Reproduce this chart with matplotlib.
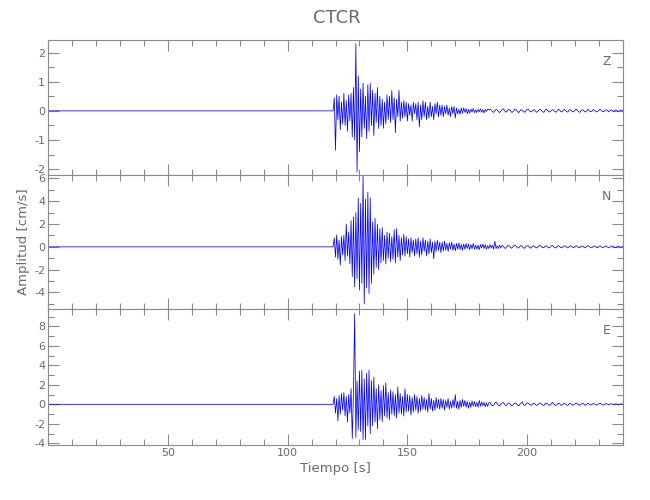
import numpy as np
import matplotlib
matplotlib.use("Agg")
import matplotlib.pyplot as plt
from matplotlib.ticker import MultipleLocator, FixedLocator

# station record, three components, velocity in cm/s
station = "CTCR"
components = ["Z", "N", "E"]
onset = 119.0   # s, start of the event (flat before this)
dt = 0.5        # s, sample step of the hand read values

z_vals = [
    0.00, 0.45, -1.35, 0.55, -0.30, 0.50, -0.65, 0.30, -0.45, 0.60,
    -0.50, 0.35, -0.70, 0.55, -0.35, 0.60, -0.90, 0.80, -1.00, 2.30,
    -2.10, 1.20, -1.40, 0.75, -0.90, 0.95, -0.60, 0.50, -0.95, 0.90,
    -0.70, 0.95, -0.50, 0.70, -0.85, 0.60, -0.40, 0.80, -0.60, 0.50,
    -0.50, 0.40, -0.60, 0.30, -0.45, 0.55, -0.30, 0.50, -0.40, 0.70,
    -0.30, 0.45, -0.75, 0.40, -0.20, 0.70, -0.35, 0.30, -0.25, 0.35,
    -0.20, 0.30, -0.35, 0.25, -0.15, 0.20, -0.35, 0.30, -0.10, 0.25,
    -0.30, 0.30, -0.55, 0.20, -0.30, 0.35, -0.20, 0.30, -0.30, 0.15,
    -0.25, 0.30, -0.20, 0.15, -0.30, 0.25, -0.10, 0.30, -0.20, 0.20,
    -0.15, 0.20, -0.20, 0.15, -0.10, 0.20, -0.15, 0.10, -0.20, 0.15,
    -0.10, 0.15, -0.25, 0.10, -0.10, 0.05, -0.12, 0.10, -0.08, 0.10,
    -0.05, 0.08, -0.10, 0.05, -0.08, 0.06, -0.04, 0.08, -0.06, 0.03,
    -0.06, 0.05, -0.03, 0.07, -0.05, 0.04, -0.07, 0.05, -0.02, 0.06,
    0.04, 0.06, 0.02, -0.03, -0.05, 0.00, 0.05, 0.03, -0.02, -0.06,
    -0.01, 0.04, 0.07, 0.02, -0.04, -0.03, 0.03, 0.05, 0.01, -0.05,
    -0.04, 0.02, 0.06, 0.03, -0.03, -0.06, 0.00, 0.04, 0.02, -0.02,
    -0.05, 0.01, 0.05, 0.06, 0.00, -0.04, -0.02, 0.03, 0.04, -0.01,
    -0.05, -0.02, 0.04, 0.05, 0.01, -0.03, -0.05, 0.02, 0.06, 0.02,
    -0.03, -0.04, 0.01, 0.04, 0.03, -0.02, -0.05, 0.00, 0.05, 0.03,
    -0.02, -0.04, 0.02, 0.05, 0.01, -0.03, -0.04, 0.03, 0.04, 0.00,
    -0.04, -0.02, 0.03, 0.06, 0.02, -0.03, -0.05, 0.01, 0.04, 0.02,
    -0.03, -0.04, 0.02, 0.05, 0.00, -0.03, -0.02, 0.04, 0.03, -0.01,
    -0.04, -0.01, 0.03, 0.05, 0.01, -0.03, -0.03, 0.02, 0.04, 0.01,
    -0.03, 0.00, 0.03, 0.02, -0.02, 0.00, 0.03, 0.01, -0.02, 0.00,
    0.02, 0.03, -0.01, -0.03, 0.01, 0.02, 0.00, -0.02, 0.01, 0.00,
]

n_vals = [
    0.00, 0.80, -0.90, 1.05, -1.10, 0.60, -1.60, 0.90, -0.70, 1.00,
    -1.20, 2.00, -0.80, 1.30, -1.50, 2.30, -2.60, 2.60, -3.50, 3.00,
    -2.80, 4.30, -3.80, 3.80, -3.20, 6.20, -5.00, 4.20, -3.60, 4.80,
    -4.10, 4.30, -3.20, 2.20, -2.40, 2.50, -1.80, 2.00, -2.00, 1.60,
    -1.40, 1.70, -1.20, 1.00, -1.50, 1.30, -1.00, 1.20, -1.30, 0.90,
    -1.10, 1.50, -1.40, 1.60, -0.90, 1.00, -1.20, 0.80, -0.70, 1.10,
    -0.80, 0.90, -0.60, 0.70, -0.90, 0.80, -0.50, 0.60, -0.80, 0.70,
    -0.60, 0.80, -0.90, 0.50, -0.70, 0.80, -0.40, 0.60, -0.80, 0.50,
    -0.60, 0.70, -0.50, 0.40, -1.05, 0.50, -0.40, 0.60, -0.30, 0.40,
    -0.50, 0.40, -0.35, 0.50, -0.30, 0.30, -0.40, 0.35, -0.20, 0.40,
    -0.30, 0.25, -0.35, 0.30, -0.20, 0.35, -0.25, 0.20, -0.30, 0.25,
    -0.20, 0.30, -0.15, 0.25, -0.25, 0.20, -0.15, 0.30, -0.20, 0.15,
    -0.20, 0.15, -0.25, 0.20, -0.10, 0.25, -0.15, 0.20, -0.20, 0.10,
    -0.15, 0.20, -0.10, 0.15, -0.20, 0.50, -0.15, 0.10, -0.15, 0.15,
    -0.10, 0.12, 0.05, -0.08, -0.14, 0.02, 0.12, 0.08, -0.06, -0.12,
    0.00, 0.10, 0.14, 0.04, -0.10, -0.08, 0.06, 0.12, 0.02, -0.10,
    -0.12, 0.04, 0.10, 0.08, -0.06, -0.12, 0.00, 0.08, 0.06, -0.04,
    -0.10, 0.02, 0.12, 0.10, 0.00, -0.08, -0.06, 0.06, 0.10, -0.02,
    -0.10, -0.04, 0.08, 0.12, 0.02, -0.06, -0.10, 0.04, 0.10, 0.04,
    -0.06, -0.08, 0.02, 0.08, 0.06, -0.04, -0.10, 0.00, 0.10, 0.06,
    -0.04, -0.08, 0.04, 0.10, 0.02, -0.06, -0.08, 0.06, 0.08, 0.00,
    -0.08, -0.04, 0.06, 0.10, 0.04, -0.06, -0.08, 0.02, 0.08, 0.04,
    -0.06, -0.08, 0.04, 0.08, 0.00, -0.06, -0.04, 0.06, 0.06, -0.02,
    -0.06, -0.02, 0.05, 0.08, 0.02, -0.05, -0.06, 0.03, 0.06, 0.02,
    -0.05, 0.00, 0.05, 0.04, -0.03, -0.02, 0.04, 0.02, -0.03, 0.00,
]

e_vals = [
    0.00, 0.80, -0.90, 0.60, -1.70, 0.90, -1.00, 1.10, -0.60, 1.20,
    -1.20, 0.80, -1.80, 1.00, -0.90, 1.60, -3.50, 1.20, 9.30, -3.40,
    2.40, -2.60, 3.40, -2.80, 3.50, -3.60, 2.60, -3.60, 3.20, -2.20,
    3.50, -3.00, 2.40, -2.20, 2.80, -1.80, 1.60, -2.50, 2.00, -1.60,
    1.40, -1.80, 1.90, -1.20, 2.20, -1.40, 1.20, -1.60, 1.50, -1.00,
    1.30, -1.20, 1.00, -1.40, 1.80, -0.90, 1.10, -1.00, 0.80, -1.20,
    1.60, -0.80, 1.00, -0.70, 0.90, -1.10, 0.70, -0.80, 1.00, -0.60,
    0.80, -0.90, 0.60, -0.70, 0.90, -0.50, 0.70, -0.60, 0.50, -0.80,
    1.10, -0.50, 0.60, -0.70, 0.40, -0.60, 0.70, -0.40, 0.50, -0.50,
    0.60, -0.40, 0.50, -0.60, 0.40, -0.30, 0.60, -0.50, 0.30, -0.40,
    0.50, -0.30, 1.00, -0.40, 0.30, -0.50, 0.40, -0.30, 0.50, -0.20,
    0.40, -0.30, 0.30, -0.40, 0.20, -0.30, 0.35, -0.20, 0.30, -0.25,
    0.20, -0.30, 0.40, -0.20, 0.25, -0.15, 0.20, -0.25, 0.15, -0.20,
    0.15, 0.20, -0.05, -0.15, -0.10, 0.10, 0.25, 0.05, -0.10, -0.15,
    0.00, 0.12, 0.18, 0.04, -0.12, -0.10, 0.08, 0.15, 0.00, -0.14,
    -0.10, 0.06, 0.14, 0.08, -0.08, -0.15, 0.02, 0.12, 0.25, -0.05,
    -0.12, 0.02, 0.14, 0.12, -0.02, -0.10, -0.06, 0.08, 0.12, -0.04,
    -0.12, -0.04, 0.10, 0.14, 0.02, -0.08, -0.12, 0.06, 0.12, 0.04,
    -0.08, -0.10, 0.04, 0.20, 0.06, -0.06, -0.12, 0.00, 0.10, 0.08,
    -0.06, -0.10, 0.04, 0.12, 0.02, -0.08, -0.10, 0.06, 0.10, 0.00,
    -0.10, -0.04, 0.06, 0.12, 0.04, -0.06, -0.10, 0.02, 0.08, 0.06,
    -0.06, -0.08, 0.04, 0.10, 0.00, -0.06, -0.04, 0.08, 0.06, -0.02,
    -0.08, -0.02, 0.06, 0.10, 0.02, -0.06, -0.06, 0.04, 0.08, 0.02,
    -0.06, 0.00, 0.06, 0.04, -0.04, -0.02, 0.05, 0.02, -0.04, 0.00,
    0.03, 0.04, -0.02, -0.04, 0.02, 0.03, 0.00, -0.03, 0.02, 0.00,
]

# axis limits and ticks per panel
ylims = [(-2.2, 2.43), (-5.45, 6.3), (-4.17, 9.77)]
ymajor = [1, 2, 2]
yminor = [0.5, 1, 1]
xlim = (0, 240)
xmajor = [50, 100, 150, 200]

plt.rcParams['font.family'] = ['DejaVu Sans']
plt.rcParams['axes.unicode_minus'] = False
gray = '#8a8a8a'
tgray = '#6a6a6a'

fig = plt.figure(figsize=(6.5, 5), dpi=100)

left, width = 48 / 650, 575 / 650
tops = [40, 175, 309]
bots = [175, 309, 445]

axes = []
for k, vals in enumerate([z_vals, n_vals, e_vals]):
    y0 = 1 - bots[k] / 500
    h = (bots[k] - tops[k]) / 500
    ax = fig.add_axes([left, y0, width, h])
    t = np.concatenate(([0.0], onset + dt * np.arange(len(vals))))
    v = np.concatenate(([0.0], vals))
    ax.plot(t, v, color='#0000ff', lw=0.55)
    ax.set_xlim(xlim)
    ax.set_ylim(ylims[k])
    ax.xaxis.set_major_locator(FixedLocator(xmajor))
    ax.xaxis.set_minor_locator(MultipleLocator(10))
    ax.yaxis.set_major_locator(MultipleLocator(ymajor[k]))
    ax.yaxis.set_minor_locator(MultipleLocator(yminor[k]))
    ax.tick_params(which='both', direction='in', top=True, right=True,
                   color=gray, labelcolor=tgray, labelsize=8, width=0.8, pad=2)
    ax.tick_params(which='major', length=8)
    ax.tick_params(which='minor', length=4)
    for s in ax.spines.values():
        s.set_color(gray)
        s.set_linewidth(0.8)
    if k < 2:
        ax.tick_params(labelbottom=False)
    ax.text(0.972, 0.84, components[k], transform=ax.transAxes,
            ha='center', va='center', color=tgray, fontsize=9)
    axes.append(ax)

axes[-1].set_xlabel('Tiempo [s]', color=tgray, fontsize=9.5, labelpad=3)
fig.text(0.036, 0.516, 'Amplitud [cm/s]', rotation=90, ha='center', va='center',
         color=tgray, fontsize=9.5)
fig.text(0.518, 0.964, station, ha='center', va='center', color=tgray, fontsize=13)

fig.savefig('out.png', dpi=100)
